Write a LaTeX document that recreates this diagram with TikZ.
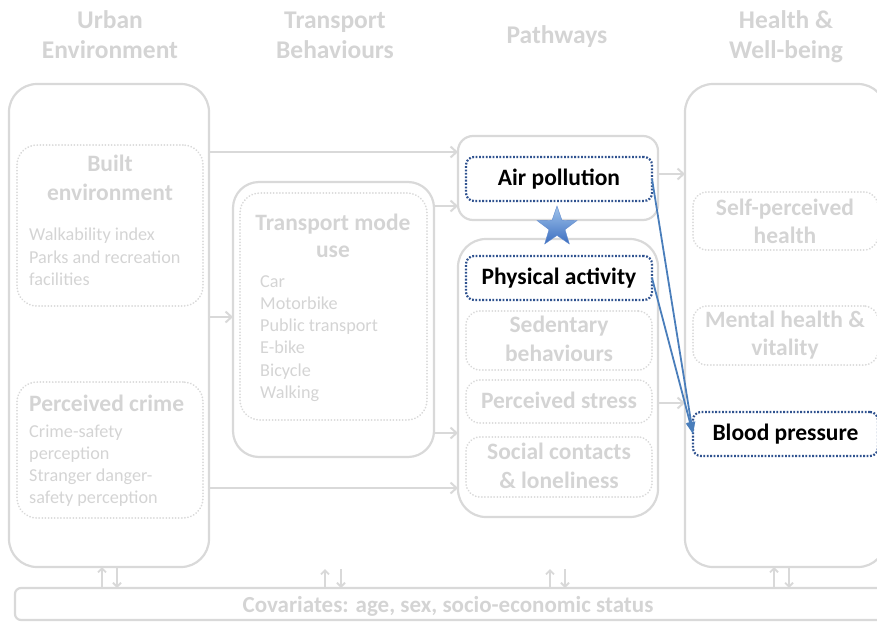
\documentclass[tikz,border=0pt]{standalone}
\usepackage{fontspec}
\setmainfont{Carlito}
\usetikzlibrary{arrows.meta,shapes.geometric,calc}
\definecolor{lg}{RGB}{217,217,217}
\definecolor{lt}{RGB}{212,212,212}
\definecolor{db}{RGB}{47,82,143}
\definecolor{ab}{RGB}{74,126,187}
\definecolor{stt}{RGB}{160,196,236}
\definecolor{stb}{RGB}{60,110,192}
\begin{document}
\begin{tikzpicture}[x=1pt,y=-1pt,
  outerbox/.style={draw=lg, line width=2.2pt, rounded corners=28pt, inner sep=0pt, outer sep=0pt, anchor=north west},
  innerbox/.style={draw=lg, line width=1.9pt, dash pattern=on 0.1pt off 3pt, line cap=round, rounded corners=14pt, inner sep=0pt, outer sep=0pt, anchor=north west},
  keybox/.style={draw=db, line width=2.2pt, dash pattern=on 1.8pt off 1.6pt, rounded corners=8pt, inner sep=0pt, outer sep=0pt, fill=white, text=black, font=\fontsize{23.5}{28}\selectfont\bfseries},
  hd/.style={text=lt, font=\fontsize{25.5}{30}\selectfont\bfseries, inner sep=0pt, anchor=base},
  ttl/.style={text=lt, font=\fontsize{23.5}{28}\selectfont\bfseries, inner sep=0pt, anchor=base},
  itm/.style={text=lt, font=\fontsize{18.2}{22}\selectfont, inner sep=0pt, anchor=base west},
  garrow/.style={draw=lg, line width=2pt, -{Straight Barb[length=6pt,width=11pt]}},
  sarrow/.style={draw=lg, line width=1.8pt, -{Straight Barb[length=4pt,width=8pt]}},
  barrow/.style={draw=ab, line width=1.8pt, -{Triangle[length=12pt,width=8pt]}}
]
\useasboundingbox (0,0) rectangle (877,621);
\clip (0,0) rectangle (877,621);

% headers
\node[hd] (h1a) at (110,28) {Urban};
\node[hd] (h1b) at (110,58) {Environment};
\node[hd] (h2a) at (335,28) {Transport};
\node[hd] (h2b) at (335,58) {Behaviours};
\node[hd] (h3) at (557,43) {Pathways};
\node[hd] (h4a) at (786,28) {Health \&};
\node[hd] (h4b) at (786,58) {Well-being};

% outer boxes
\node[outerbox, minimum width=200, minimum height=483] (urban) at (9,84) {};
\node[outerbox, minimum width=201, minimum height=275, rounded corners=26pt] (trans) at (233,182) {};
\node[outerbox, minimum width=200, minimum height=84, rounded corners=15pt] (ptop) at (458,136) {};
\node[outerbox, minimum width=200, minimum height=278, rounded corners=28pt] (plow) at (458,239) {};
\node[outerbox, minimum width=201, minimum height=483] (health) at (685,84) {};
\node[outerbox, minimum width=880, minimum height=32, rounded corners=6pt] (cov) at (15,588) {};

% inner dotted boxes
\node[innerbox, minimum width=186, minimum height=161, rounded corners=20pt] (be) at (17,145) {};
\node[innerbox, minimum width=186, minimum height=136, rounded corners=20pt] (pc) at (17,382) {};
\node[innerbox, minimum width=187, minimum height=227, rounded corners=20pt] (tm) at (240,193) {};
\node[innerbox, minimum width=186, minimum height=59] (sed) at (466,311) {};
\node[innerbox, minimum width=186, minimum height=43] (str) at (466,380) {};
\node[innerbox, minimum width=186, minimum height=60] (soc) at (466,437) {};
\node[innerbox, minimum width=185, minimum height=58] (sph) at (693,192) {};
\node[innerbox, minimum width=185, minimum height=59] (mh) at (693,306) {};

% texts in urban environment
\node[ttl] (bet1) at (110,171) {Built};
\node[ttl] (bet2) at (110,200) {environment};
\node[itm] (bei1) at (29,240) {Walkability index};
\node[itm] (bei2) at (29,263) {Parks and recreation};
\node[itm] (bei3) at (29,285) {facilities};
\node[ttl, anchor=base west] (pct) at (29,411) {Perceived crime};
\node[itm] (pci1) at (29,437) {Crime-safety};
\node[itm] (pci2) at (29,459) {perception};
\node[itm] (pci3) at (29,481) {Stranger danger-};
\node[itm] (pci4) at (29,503) {safety perception};

% transport
\node[ttl] (tmt1) at (333,230) {Transport mode};
\node[ttl] (tmt2) at (333,257) {use};
\node[itm] (tmi1) at (260,287) {Car};
\node[itm] (tmi2) at (260,309) {Motorbike};
\node[itm] (tmi3) at (260,331) {Public transport};
\node[itm] (tmi4) at (260,353) {E-bike};
\node[itm] (tmi5) at (260,376) {Bicycle};
\node[itm] (tmi6) at (260,398) {Walking};

% pathways
\node[ttl] (sed1) at (559,332) {Sedentary};
\node[ttl] (sed2) at (559,361) {behaviours};
\node[ttl] (str1) at (559,408) {Perceived stress};
\node[ttl] (soc1) at (559,459) {Social contacts};
\node[ttl] (soc2) at (559,488) {\& loneliness};

% health
\node[ttl] (sph1) at (785,215) {Self-perceived};
\node[ttl] (sph2) at (785,243) {health};
\node[ttl] (mh1) at (785,327) {Mental health \&};
\node[ttl] (mh2) at (785,355) {vitality};

% highlighted boxes
\node[keybox, minimum width=186, minimum height=44] (air) at (559,179) {Air pollution};
\node[keybox, minimum width=186, minimum height=44] (phys) at (559,278) {Physical activity};
\node[keybox, minimum width=185, minimum height=44] (bp) at (785.5,434) {Blood pressure};

% star
\node[star, star points=5, star point ratio=2.5, minimum size=42pt, inner sep=0pt, top color=stt, bottom color=stb, draw=stb!80, line width=0.4pt] (star) at (557,227) {};

% covariates
\node[hd, font=\fontsize{23}{27}\selectfont\bfseries] (covt) at (448,612) {Covariates: age, sex, socio-economic status};

% gray connectors
\draw[garrow] (urban.east |- 0,152) -- (ptop.west |- 0,152);
\draw[garrow] (trans.east |- 0,206) -- (ptop.west |- 0,206);
\draw[garrow] (urban.east |- 0,317) -- (trans.west |- 0,317);
\draw[garrow] (trans.east |- 0,433) -- (plow.west |- 0,433);
\draw[garrow] (urban.east |- 0,488) -- (plow.west |- 0,488);
\draw[garrow] (ptop.east |- 0,174) -- (health.west |- 0,174);
\draw[garrow] (plow.east |- 0,403) -- (health.west |- 0,403);

% covariate arrows
\draw[sarrow] (cov.north -| 102,0) -- (urban.south -| 102,0);
\draw[sarrow] (urban.south -| 117,0) -- (cov.north -| 117,0);
\draw[sarrow] (cov.north -| 325,0) -- (325,569);
\draw[sarrow] (341,569) -- (cov.north -| 341,0);
\draw[sarrow] (cov.north -| 550,0) -- (550,569);
\draw[sarrow] (565,569) -- (cov.north -| 565,0);
\draw[sarrow] (cov.north -| 774,0) -- (health.south -| 774,0);
\draw[sarrow] (health.south -| 789,0) -- (cov.north -| 789,0);

% blue connectors
\draw[barrow] (air.east) -- (bp.west);
\draw[barrow] (phys.east) -- (bp.west);
\end{tikzpicture}
\end{document}
